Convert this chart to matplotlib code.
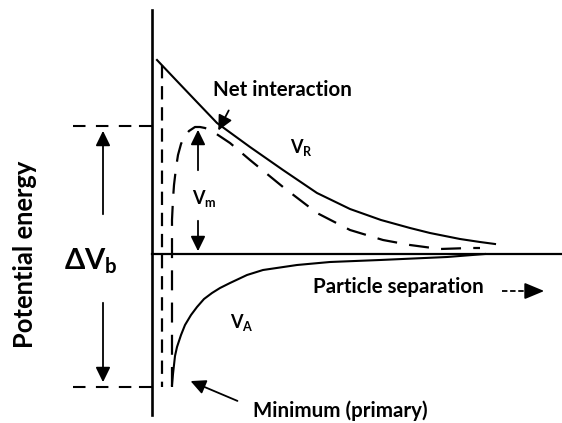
import matplotlib.pyplot as plt

plt.rcParams['font.family'] = ['Lato', 'DejaVu Sans']
plt.rcParams['mathtext.fontset'] = 'custom'
plt.rcParams['mathtext.rm'] = 'Lato'
plt.rcParams['mathtext.bf'] = 'Lato:bold'

# separation (x) and potential energy (y); origin where the axes cross
rep_x = [5, 23, 43, 65, 98, 131, 165, 198, 229, 258, 278, 308, 328, 343]
rep_y = [194, 175, 154, 131, 107, 84, 61, 45, 34, 26, 21, 15, 12, 10]

net_x = [20, 20, 20, 21, 22, 24, 26, 29, 32, 37, 43, 48, 53, 58, 63, 78, 98,
         131, 165, 198, 231, 258, 288, 318, 328]
net_y = [-133, -46, 34, 55, 69, 86, 99, 110, 117, 123, 127, 127, 126, 124, 121,
         111, 94, 67, 41, 24, 14, 9, 5, 6, 6]

att_x = [20, 21, 22, 23, 25, 29, 33, 39, 45, 52, 60, 68, 78, 95, 111, 145, 178,
         228, 295, 333]
att_y = [-131, -120, -111, -102, -93, -81, -71, -61, -53, -45, -39, -34, -29,
         -21, -16, -11, -8, -6, -3, 0]

# steep repulsive wall close to contact
wall_x = [10, 10]
wall_y = [189, -133]

barrier = 128      # top of the energy barrier
minimum = -133     # primary minimum

fig = plt.figure(figsize=(5.62, 4.23), dpi=100)
ax = fig.add_axes([0, 0, 1, 1])
ax.set_xlim(-152, 410)
ax.set_ylim(-169, 254)
ax.axis('off')

# axes
ax.plot([0, 0], [244, -161], color='black', lw=1.9)
ax.plot([0, 410], [0, 0], color='black', lw=1.6)

# curves
ax.plot(rep_x, rep_y, color='black', lw=1.5)
ax.plot(att_x, att_y, color='black', lw=1.5)
ax.plot(net_x, net_y, color='black', lw=1.6, dashes=(9, 5.5))
ax.plot(wall_x, wall_y, color='black', lw=1.6, dashes=(6, 3.5))

# guide lines for the barrier height
for level in [barrier, minimum]:
    ax.plot([-79, -12], [level, level], color='black', lw=1.5, dashes=(6, 5))
    ax.plot([-12, 0], [level, level], color='black', lw=1.5)

arrow = dict(arrowstyle='-|>,head_length=0.45,head_width=0.22', color='black',
             lw=1.3, mutation_scale=20)

# delta V_b
ax.annotate('', xy=(-49, barrier - 2), xytext=(-49, 37), arrowprops=arrow)
ax.annotate('', xy=(-49, minimum + 2), xytext=(-49, -46), arrowprops=arrow)
ax.text(-61, -7, 'ΔV$_\\mathbf{b}$', fontsize=21, fontweight='bold',
        ha='center', va='center')

# V_m
ax.annotate('', xy=(46, barrier - 1), xytext=(46, 81), arrowprops=arrow)
ax.annotate('', xy=(46, 0), xytext=(46, 36), arrowprops=arrow)
ax.text(40, 56, 'V$_\\mathbf{m}$', fontsize=13, fontweight='bold',
        ha='left', va='center')

ax.text(138, 107, 'V$_\\mathbf{R}$', fontsize=13, fontweight='bold',
        ha='left', va='center')
ax.text(78, -68, 'V$_\\mathbf{A}$', fontsize=13, fontweight='bold',
        ha='left', va='center')

ax.text(61, 164, 'Net interaction', fontsize=14.8, fontweight='bold',
        ha='left', va='center')
ax.annotate('', xy=(65, 121), xytext=(78, 146), arrowprops=arrow)

ax.text(161, -33, 'Particle separation', fontsize=14.8, fontweight='bold',
        ha='left', va='center')
ax.plot([350, 379], [-37, -37], color='black', lw=1.3, dashes=(3, 1.5))
ax.annotate('', xy=(395, -37), xytext=(377, -37),
            arrowprops=dict(arrowstyle='-|>,head_length=0.6,head_width=0.25',
                            color='black', lw=1.3, mutation_scale=20))

ax.text(101, -157, 'Minimum (primary)', fontsize=14.8, fontweight='bold',
        ha='left', va='center')
ax.annotate('', xy=(36, -126), xytext=(88, -148), arrowprops=arrow)

ax.text(-127, 0, 'Potential energy', fontsize=18.4, fontweight='bold',
        rotation=90, ha='center', va='center')

fig.savefig('out.png', dpi=100)
